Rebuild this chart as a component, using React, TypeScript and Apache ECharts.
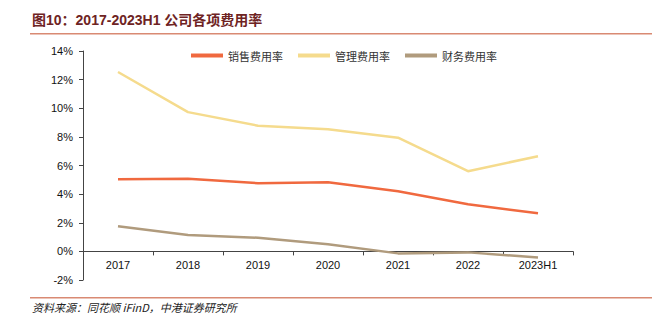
import React, { useEffect, useRef } from "react";
import * as echarts from "echarts";

const categories = ["2017", "2018", "2019", "2020", "2021", "2022", "2023H1"];
const salesRate = [5.04, 5.07, 4.76, 4.83, 4.2, 3.29, 2.66];
const adminRate = [12.53, 9.73, 8.78, 8.54, 7.94, 5.6, 6.65];
const financeRate = [1.75, 1.15, 0.95, 0.49, -0.14, -0.07, -0.42];
const seriesNames = ["销售费用率", "管理费用率", "财务费用率"];
const titleText = "图10：2017-2023H1 公司各项费用率";
const sourceText = "资料来源：同花顺 iFinD，中港证券研究所";

const colors = ["#f0693f", "#f5db8d", "#b09b7d"];

export default function App() {
  const ref = useRef<HTMLDivElement>(null);
  useEffect(() => {
    const chart = echarts.init(ref.current!, null, { renderer: "svg" });
    const font = "'Noto Sans CJK SC', 'Liberation Sans', sans-serif";
    chart.setOption({
      animation: false,
      backgroundColor: "#ffffff",
      textStyle: { fontFamily: "'Liberation Sans', 'Noto Sans CJK SC', sans-serif" },
      grid: { left: 83, right: 87, top: 51, bottom: 46, containLabel: false },
      legend: {
        top: 45,
        left: 186,
        itemWidth: 32,
        itemHeight: 4,
        itemGap: 15,
        icon: "rect",
        textStyle: { fontSize: 11, color: "#333", fontFamily: font },
        data: seriesNames,
      },
      xAxis: {
        type: "category",
        data: categories,
        boundaryGap: true,
        offset: -28.6,
        axisLine: { onZero: false, lineStyle: { color: "#444", width: 1 } },
        axisTick: { show: true, alignWithLabel: false, length: 4, lineStyle: { color: "#444" } },
        axisLabel: { color: "#111", fontSize: 11, margin: 8 },
      },
      yAxis: {
        type: "value",
        min: -2,
        max: 14,
        interval: 2,
        axisLine: { show: true, lineStyle: { color: "#444", width: 1 } },
        axisTick: { show: true, length: 4, lineStyle: { color: "#444" } },
        splitLine: { show: false },
        axisLabel: { color: "#111", fontSize: 11, formatter: "{value}%", margin: 10 },
      },
      series: [
        { name: seriesNames[0], data: salesRate },
        { name: seriesNames[1], data: adminRate },
        { name: seriesNames[2], data: financeRate },
      ].map((s, i) => ({
        ...s,
        type: "line",
        symbol: "none",
        color: colors[i],
        lineStyle: { width: 2.5, color: colors[i] },
      })),
      graphic: [
        {
          type: "text",
          left: 32,
          top: 13,
          style: {
            text: titleText,
            fill: "#6e2323",
            font: "bold 14px 'Liberation Sans', 'Noto Sans CJK SC', sans-serif",
          },
        },
        {
          type: "rect",
          left: 30,
          top: 33,
          z: 100,
          shape: { x: 0, y: 0, width: 630, height: 1.5 },
          style: { fill: "#d98a73", stroke: null },
        },
        {
          type: "rect",
          left: 30,
          top: 297,
          z: 100,
          shape: { x: 0, y: 0, width: 630, height: 1.5 },
          style: { fill: "#d98a73", stroke: null },
        },
        {
          type: "text",
          left: 32,
          top: 301,
          style: {
            text: sourceText,
            fill: "#222",
            font: "italic 11px 'Noto Sans CJK SC', sans-serif",
          },
        },
      ],
    });
    return () => chart.dispose();
  }, []);
  return <div ref={ref} style={{ width: 660, height: 326, margin: -8 }} />;
}
